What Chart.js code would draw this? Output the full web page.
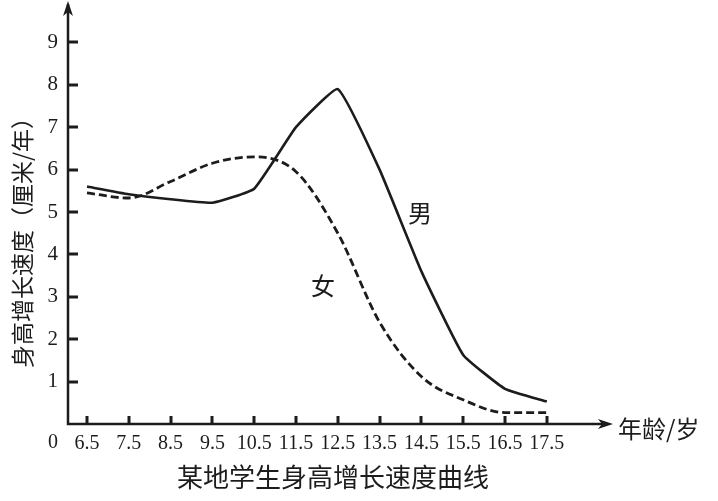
<!DOCTYPE html>
<html>
<head>
<meta charset="utf-8">
<script src="https://cdn.jsdelivr.net/npm/chart.js@4.4.0/dist/chart.umd.min.js"></script>
<style>
html, body { margin: 0; padding: 0; background: #fff; }
#wrap { width: 718px; height: 501px; }
</style>
</head>
<body>
<div id="wrap"><canvas id="chart" width="718" height="501"></canvas></div>
<script>
// data
const ages = [6.5, 7.5, 8.5, 9.5, 10.5, 11.5, 12.5, 13.5, 14.5, 15.5, 16.5, 17.5];
const boys = [5.6, 5.42, 5.3, 5.22, 5.55, 7.0, 7.9, 6.0, 3.6, 1.63, 0.83, 0.53];
const girls = [5.45, 5.33, 5.72, 6.15, 6.3, 5.95, 4.5, 2.4, 1.12, 0.57, 0.27, 0.27];
const yTicks = [1, 2, 3, 4, 5, 6, 7, 8, 9];

const ink = '#1c1c1c';
const numFont = '"Liberation Serif", "DejaVu Serif", serif';
const cjkFont = '"Noto Sans CJK SC", "Liberation Serif", serif';

// axes with arrows, inward ticks and free text
const decor = {
    id: 'decor',
    afterDraw(chart) {
        const c = chart.ctx;
        const a = chart.chartArea;
        const xs = chart.scales.x;
        const ys = chart.scales.y;
        c.save();
        c.strokeStyle = ink;
        c.fillStyle = ink;
        c.lineWidth = 2.5;
        c.setLineDash([]);

        // axis lines
        c.beginPath();
        c.moveTo(a.left, 4);
        c.lineTo(a.left, a.bottom);
        c.lineTo(a.right + 6, a.bottom);
        c.stroke();

        // arrow heads
        c.beginPath();
        c.moveTo(a.left, 1);
        c.lineTo(a.left - 5, 16);
        c.lineTo(a.left, 12);
        c.lineTo(a.left + 5, 16);
        c.closePath();
        c.fill();
        c.beginPath();
        c.moveTo(a.right + 13, a.bottom);
        c.lineTo(a.right - 2, a.bottom - 5);
        c.lineTo(a.right + 2, a.bottom);
        c.lineTo(a.right - 2, a.bottom + 5);
        c.closePath();
        c.fill();

        // inward ticks
        yTicks.forEach(v => {
            const y = Math.round(ys.getPixelForValue(v));
            c.fillRect(a.left, y - 1.5, 10, 3);
        });
        ages.forEach(v => {
            const x = Math.round(xs.getPixelForValue(v));
            c.fillRect(x - 1.5, a.bottom - 8, 3, 8);
        });

        // origin label
        c.font = '20px ' + numFont;
        c.textAlign = 'center';
        c.textBaseline = 'middle';
        c.fillText('0', 53, 443);

        // series names
        c.font = '24px ' + cjkFont;
        c.fillText('男', 420, 213);
        c.fillText('女', 323, 286);

        // x unit
        c.textAlign = 'left';
        c.fillText('年龄/岁', 618, 429);

        // bottom caption
        c.textAlign = 'center';
        c.font = '26px ' + cjkFont;
        c.fillText('某地学生身高增长速度曲线', 333, 477);

        // y title
        c.translate(22, 237);
        c.rotate(-Math.PI / 2);
        c.font = '23px ' + cjkFont;
        c.fillText('身高增长速度（厘米/年）', 0, 0);
        c.restore();
    }
};

const config = {
    type: 'line',
    data: {
        datasets: [
            {
                label: '男',
                data: ages.map((a, i) => ({ x: a, y: boys[i] })),
                borderColor: ink,
                borderWidth: 2.6,
                pointRadius: 0,
                tension: 0.12,
                fill: false
            },
            {
                label: '女',
                data: ages.map((a, i) => ({ x: a, y: girls[i] })),
                borderColor: ink,
                borderWidth: 2.8,
                borderDash: [8, 4],
                pointRadius: 0,
                tension: 0.4,
                cubicInterpolationMode: 'monotone',
                fill: false
            }
        ]
    },
    options: {
        responsive: false,
        animation: false,
        layout: { padding: { top: 14, right: 118, left: 0, bottom: 0 } },
        plugins: {
            legend: { display: false },
            tooltip: { enabled: false }
        },
        scales: {
            x: {
                type: 'linear',
                min: 6.5 - 19 / 41.8,
                max: 6.5 + 513 / 41.8,
                afterBuildTicks: s => { s.ticks = ages.map(v => ({ value: v })); },
                afterFit: s => { s.height = 77; },
                grid: { display: false, drawTicks: false },
                border: { display: false },
                ticks: {
                    padding: 8,
                    color: ink,
                    font: { family: numFont, size: 20 },
                    maxRotation: 0,
                    autoSkip: false,
                    callback: v => String(v)
                }
            },
            y: {
                min: 0,
                // chart area ends up from about 22.6 to 424 px
                max: 401.4 / 42.4,
                afterBuildTicks: s => { s.ticks = yTicks.map(v => ({ value: v })); },
                afterFit: s => { s.width = 68; },
                grid: { display: false, drawTicks: false },
                border: { display: false },
                ticks: {
                    padding: 10,
                    color: ink,
                    font: { family: numFont, size: 21 }
                }
            }
        }
    },
    plugins: [decor]
};

new Chart(document.getElementById('chart').getContext('2d'), config);
</script>
</body>
</html>
